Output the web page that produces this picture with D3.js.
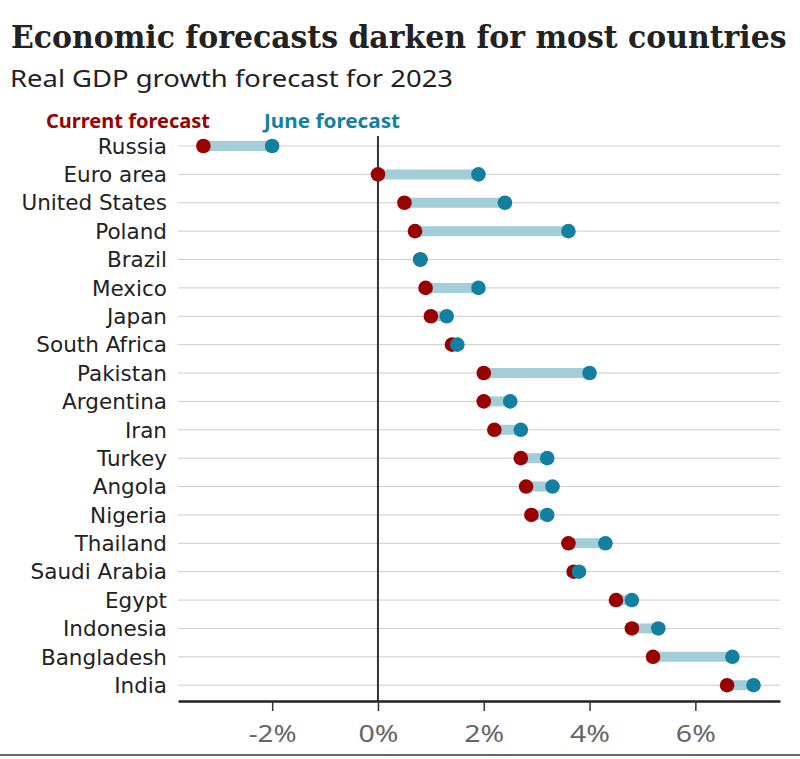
<!DOCTYPE html>
<html>
<head>
<meta charset="utf-8">
<script src="https://cdn.jsdelivr.net/npm/d3@7"></script>
<style>
  body { margin: 0; background: #fff; }
  svg { display: block; }
</style>
</head>
<body>
<div id="chart"></div>
<script>
// data
const countries = ["Russia", "Euro area", "United States", "Poland", "Brazil", "Mexico", "Japan",
  "South Africa", "Pakistan", "Argentina", "Iran", "Turkey", "Angola", "Nigeria", "Thailand",
  "Saudi Arabia", "Egypt", "Indonesia", "Bangladesh", "India"]
const current = [-3.3, 0.0, 0.5, 0.7, 0.8, 0.9, 1.0, 1.4, 2.0, 2.0, 2.2, 2.7, 2.8, 2.9, 3.6, 3.7, 4.5, 4.8, 5.2, 6.6]
const june = [-2.0, 1.9, 2.4, 3.6, 0.8, 1.9, 1.3, 1.5, 4.0, 2.5, 2.7, 3.2, 3.3, 3.2, 4.3, 3.8, 4.8, 5.3, 6.7, 7.1]
const ticks = [-2, 0, 2, 4, 6]

const red = "#990000", blue = "#1380a1", barColor = "#a3cdd9"
const W = 800, H = 759

const svg = d3.select("#chart").append("svg")
  .attr("width", W).attr("height", H)
  .style("font-family", "'Noto Sans', sans-serif")

// titles - squeeze the serif title horizontally so it fits the width
const title = svg.append("text").attr("x", 0).attr("y", 0)
  .attr("font-family", "'DejaVu Serif', serif").attr("font-weight", "bold")
  .attr("font-size", 31).attr("fill", "#222")
  .text("Economic forecasts darken for most countries")
const tw = title.node().getComputedTextLength()
title.attr("transform", `translate(11,48) scale(${Math.min(1, 776 / tw)},1)`)

svg.append("text").attr("x", 10).attr("y", 87)
  .attr("font-size", 24).attr("fill", "#222")
  .attr("textLength", 443).attr("lengthAdjust", "spacingAndGlyphs")
  .text("Real GDP growth forecast for 2023")

// legend
svg.append("text").attr("x", 46).attr("y", 128)
  .attr("font-size", 19).attr("font-weight", "bold").attr("fill", red)
  .attr("textLength", 164).attr("lengthAdjust", "spacingAndGlyphs")
  .text("Current forecast")
svg.append("text").attr("x", 264).attr("y", 128)
  .attr("font-size", 19).attr("font-weight", "bold").attr("fill", blue)
  .attr("textLength", 136).attr("lengthAdjust", "spacingAndGlyphs")
  .text("June forecast")

const x = d3.scaleLinear().domain([-3.78, 7.6]).range([178, 780])
const y = d3.scalePoint().domain(countries).range([146, 685.2])

const rows = countries.map((c, i) => ({ country: c, cur: current[i], jun: june[i] }))

// gridlines
svg.append("g").selectAll("line").data(rows).join("line")
  .attr("x1", 178).attr("x2", 780)
  .attr("y1", d => y(d.country)).attr("y2", d => y(d.country))
  .attr("stroke", "#cccccc").attr("stroke-width", 1)

// country labels
svg.append("g").selectAll("text").data(rows).join("text")
  .attr("x", 167).attr("y", d => y(d.country))
  .attr("dy", "0.36em").attr("text-anchor", "end")
  .attr("font-family", "'DejaVu Sans', sans-serif")
  .attr("font-size", 21.5).attr("fill", "#222")
  .text(d => d.country)

// zero line
svg.append("line").attr("x1", x(0)).attr("x2", x(0))
  .attr("y1", 136).attr("y2", 701)
  .attr("stroke", "#333").attr("stroke-width", 2)

// bars between forecasts
svg.append("g").selectAll("line").data(rows).join("line")
  .attr("x1", d => x(d.cur)).attr("x2", d => x(d.jun))
  .attr("y1", d => y(d.country)).attr("y2", d => y(d.country))
  .attr("stroke", barColor).attr("stroke-width", 10)

// dots
svg.append("g").selectAll("circle").data(rows).join("circle")
  .attr("cx", d => x(d.cur)).attr("cy", d => y(d.country))
  .attr("r", 7.3).attr("fill", red)
svg.append("g").selectAll("circle").data(rows).join("circle")
  .attr("cx", d => x(d.jun)).attr("cy", d => y(d.country))
  .attr("r", 7.3).attr("fill", blue)

// x axis
const axis = svg.append("g").attr("transform", "translate(0,701)")
  .call(d3.axisBottom(x).tickValues(ticks).tickSize(10).tickSizeOuter(0).tickFormat(d => d + "%"))
axis.select(".domain").attr("stroke", "#222").attr("stroke-width", 2.5)
axis.selectAll(".tick line").attr("stroke", "#333").attr("stroke-width", 1.5)
axis.selectAll(".tick text").attr("font-family", "'Noto Sans', sans-serif")
  .attr("font-size", 23).attr("fill", "#666").attr("y", 25)
  .attr("textLength", 48).attr("lengthAdjust", "spacingAndGlyphs")
axis.selectAll(".tick text").filter(d => d >= 0).attr("textLength", 40)

// footer rule
svg.append("line").attr("x1", 0).attr("x2", W).attr("y1", 755).attr("y2", 755)
  .attr("stroke", "#666").attr("stroke-width", 2)
</script>
</body>
</html>
